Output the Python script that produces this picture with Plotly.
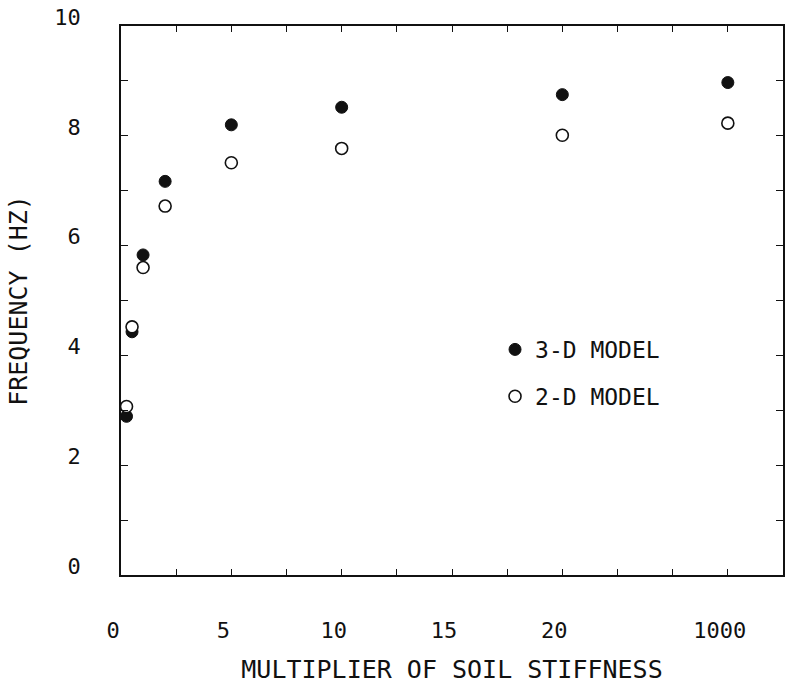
import plotly.graph_objects as go

# Data
multiplier = [0.25, 0.5, 1, 2, 5, 10, 20, 1000]
freq_3d = [2.89, 4.43, 5.83, 7.17, 8.20, 8.52, 8.75, 8.97]
freq_2d = [3.07, 4.52, 5.60, 6.72, 7.51, 7.77, 8.01, 8.23]

x_tick_vals = [0, 2.5, 5, 7.5, 10, 12.5, 15, 17.5, 20, 22.5, 25, 27.5]
x_tick_text = ["0", "", "5", "", "10", "", "15", "", "20", "", "", "1000"]
y_tick_vals = list(range(0, 11))
y_tick_text = ["0", "", "2", "", "4", "", "6", "", "8", "", "10"]

BREAK_POS = 27.5  # axis position where the broken-axis value 1000 is drawn


def axis_pos(v):
    return v if v <= 20 else BREAK_POS


xpos = [axis_pos(v) for v in multiplier]

FONT = "DejaVu Sans Mono"
INK = "#111111"

fig = go.Figure()
fig.add_trace(go.Scatter(
    x=xpos, y=freq_3d, mode="markers", name="3-D MODEL",
    legendgroup="a",
    marker=dict(symbol="circle", size=12, color=INK, line=dict(color=INK, width=1)),
))
fig.add_trace(go.Scatter(
    x=xpos, y=freq_2d, mode="markers", name="2-D MODEL",
    legendgroup="b",
    marker=dict(symbol="circle", size=12, color="white", line=dict(color=INK, width=1.6)),
))

fig.update_layout(
    width=790, height=691,
    margin=dict(l=121, r=5, t=26, b=116),
    paper_bgcolor="white", plot_bgcolor="white",
    font=dict(family=FONT, color=INK),
    showlegend=True,
    legend=dict(
        x=0.565, y=0.45, xanchor="left", yanchor="top",
        font=dict(family=FONT, size=23, color=INK),
        bgcolor="rgba(0,0,0,0)", tracegroupgap=14,
        itemsizing="trace",
    ),
)

fig.update_xaxes(
    range=[0, 30],
    tickmode="array", tickvals=x_tick_vals, ticktext=x_tick_text,
    ticks="inside", ticklen=6, tickwidth=1.2, tickcolor=INK,
    showline=True, linecolor=INK, linewidth=1.6, mirror="ticks",
    showgrid=False, zeroline=False,
    tickfont=dict(family=FONT, size=22, color=INK),
    ticklabelstandoff=35, ticklabelshift=-8,
    title=dict(text="MULTIPLIER OF SOIL STIFFNESS",
               font=dict(family=FONT, size=25, color=INK), standoff=18),
)
fig.update_yaxes(
    range=[0, 10],
    tickmode="array", tickvals=y_tick_vals, ticktext=y_tick_text,
    ticks="inside", ticklen=7, tickwidth=1.2, tickcolor=INK,
    showline=True, linecolor=INK, linewidth=1.6, mirror="ticks",
    showgrid=False, zeroline=False,
    tickfont=dict(family=FONT, size=22, color=INK),
    ticklabelstandoff=34, ticklabelshift=-9,
    title=dict(text="FREQUENCY (HZ)",
               font=dict(family=FONT, size=25, color=INK), standoff=20),
)

fig.write_html("out.html")
